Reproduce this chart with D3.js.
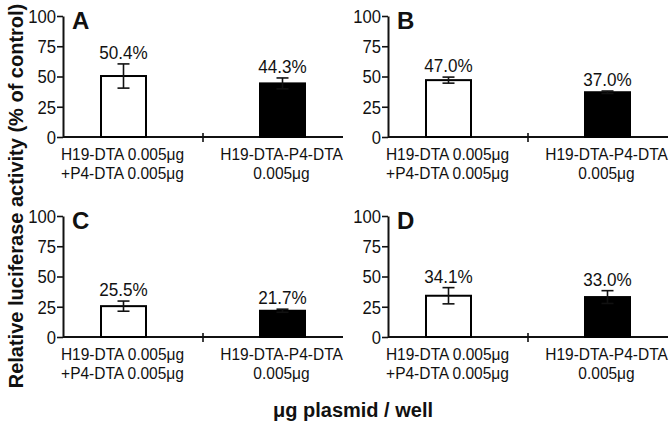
<!DOCTYPE html>
<html><head><meta charset="utf-8">
<script src="https://cdn.jsdelivr.net/npm/d3@7"></script>
<style>body{margin:0;background:#fff}svg{display:block}text{font-family:"Liberation Sans",Arial,sans-serif;fill:#111}</style>
</head><body><svg id="c" width="672" height="430"></svg>
<script>
const panelLetters = ['A','B','C','D'];
const categories = ['combined','fused'];
const categoryLines = [['H19-DTA 0.005μg','+P4-DTA 0.005μg'],['H19-DTA-P4-DTA','0.005μg']];
const valuesCombined = [50.4, 47.0, 25.5, 34.1];
const valuesFused = [44.3, 37.0, 21.7, 33.0];
const errCombined = [10.0, 2.5, 4.2, 6.7];
const errFused = [4.5, 1.0, 1.3, 5.3];
const yTicks = [0, 25, 50, 75, 100];
const yTitle = 'Relative luciferase activity (% of control)';
const xTitle = 'μg plasmid / well';

const SX = 0.9; // narrow glyphs as in the reference
const svg = d3.select('#c');
const origins = [[63,16],[388,16],[63,216],[388,216]];
const pw = 280, ph = 121;

function ntext(g, x, y, size, str, sx) {
  return g.append('text').attr('transform', `translate(${x},${y}) scale(${sx || SX},1)`)
    .attr('text-anchor', 'middle').attr('font-size', size).text(str);
}

panelLetters.forEach((L, i) => {
  const [ox, oy] = origins[i];
  const g = svg.append('g').attr('transform', `translate(${ox},${oy})`);
  const x = d3.scaleBand().domain(categories).range([0, pw]).paddingInner(0.717).paddingOuter(0.239);
  const y = d3.scaleLinear().domain([0, 100]).range([ph, 0]);
  const vals = [valuesCombined[i], valuesFused[i]];
  const errs = [errCombined[i], errFused[i]];

  // y axis
  const ya = g.append('g').call(d3.axisLeft(y).tickValues(yTicks).tickSize(6).tickPadding(2).tickSizeOuter(0));
  ya.select('.domain').attr('stroke', '#111').attr('stroke-width', 2);
  ya.selectAll('.tick line').attr('stroke', '#111').attr('stroke-width', 1.6);
  ya.selectAll('.tick text')
    .attr('font-size', 18.5).style('font-family', '"Liberation Sans",Arial,sans-serif').attr('fill', '#111')
    .attr('transform', 'translate(-7,0) scale(' + SX + ',1)').attr('x', 0).attr('dy', '0.35em');

  // x axis line
  g.append('line').attr('x1', 0).attr('x2', pw).attr('y1', ph).attr('y2', ph).attr('stroke', '#111').attr('stroke-width', 2);
  g.append('line').attr('x1', pw/2).attr('x2', pw/2).attr('y1', ph-4).attr('y2', ph+5).attr('stroke', '#111').attr('stroke-width', 1.6);

  // bars
  g.selectAll('rect.bar').data(categories).join('rect')
    .attr('x', d => x(d)).attr('width', x.bandwidth())
    .attr('y', (d, j) => y(vals[j])).attr('height', (d, j) => ph - y(vals[j]))
    .attr('fill', (d, j) => j === 0 ? '#fff' : '#000')
    .attr('stroke', '#000').attr('stroke-width', 2);

  // error bars + labels
  categories.forEach((c, j) => {
    const cx = x(c) + x.bandwidth()/2;
    const hi = y(vals[j] + errs[j]), lo = y(vals[j] - errs[j]);
    const col = '#111';
    g.append('line').attr('x1', cx).attr('x2', cx).attr('y1', hi).attr('y2', lo).attr('stroke', col).attr('stroke-width', 1.6);
    [hi, lo].forEach(yy => g.append('line').attr('x1', cx-6).attr('x2', cx+6).attr('y1', yy).attr('y2', yy).attr('stroke', col).attr('stroke-width', 1.6));
    ntext(g, cx, hi - 5, 19, vals[j].toFixed(1) + '%');
    categoryLines[j].forEach((t, k) => ntext(g, cx - 1, ph + 23 + k*19, 16.5, t, 0.94));
  });

  g.append('text').attr('x', 9).attr('y', 13).attr('font-size', 24).attr('font-weight', 'bold').text(L);
});

svg.append('text').attr('transform', 'translate(23,196) rotate(-90)').attr('text-anchor', 'middle')
  .attr('font-size', 20).attr('font-weight', 'bold').text(yTitle);
svg.append('text').attr('x', 353).attr('y', 417).attr('text-anchor', 'middle')
  .attr('font-size', 20).attr('font-weight', 'bold').text(xTitle);
</script></body></html>
